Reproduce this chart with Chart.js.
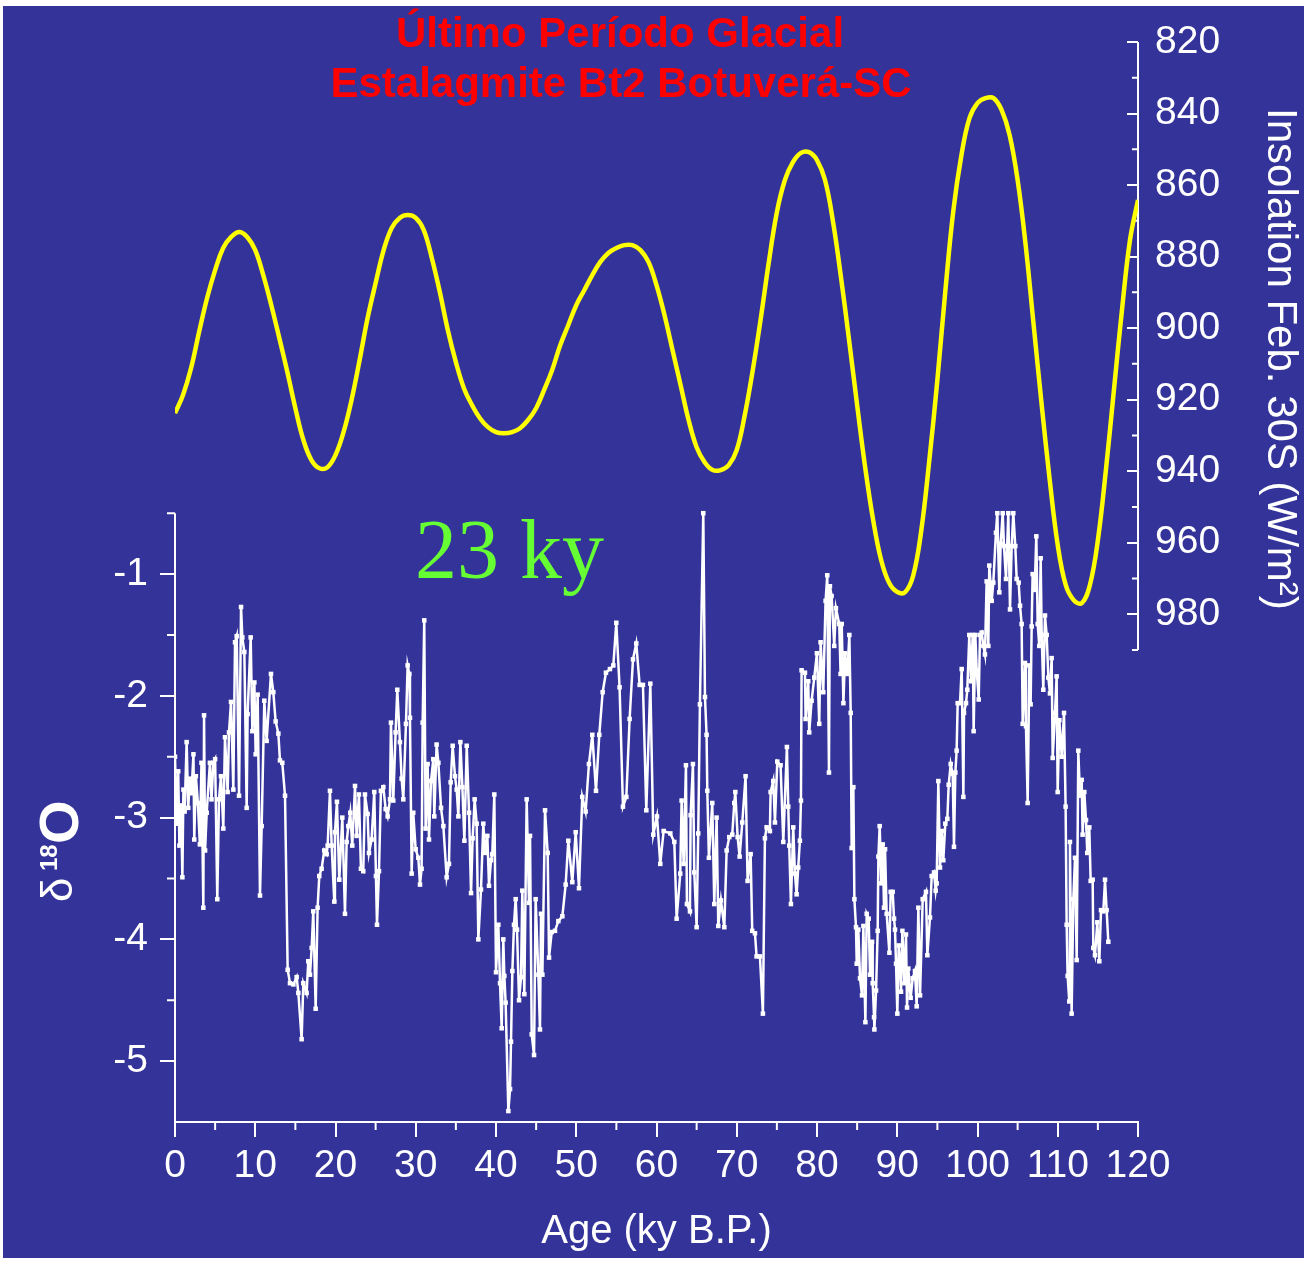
<!DOCTYPE html>
<html>
<head>
<meta charset="utf-8">
<title>Último Período Glacial - Estalagmite Bt2 Botuverá-SC</title>
<script src="https://cdn.jsdelivr.net/npm/chart.js@4.4.1/dist/chart.umd.min.js"></script>
<style>
  html, body { margin: 0; padding: 0; background: #ffffff; }
  #wrap { width: 1310px; height: 1264px; }
</style>
</head>
<body>
<div id="wrap"><canvas id="chart" width="1310" height="1264"></canvas></div>
<script>
// Stalagmite Bt2 oxygen isotope record (age in ky B.P., d18O in permil)
const ageKy = [
  0.0, 0.2, 0.4, 0.55, 0.75, 0.92, 1.05, 1.2, 1.45, 1.65,
  1.85, 2.05, 2.3, 2.4, 2.6, 2.85, 3.1, 3.3, 3.53, 3.62,
  3.75, 3.95, 4.35, 4.55, 4.78, 5.0, 5.27, 5.48, 5.73, 6.02,
  6.23, 6.56, 6.73, 6.98, 7.27, 7.48, 7.69, 7.98, 8.23, 8.39,
  8.64, 8.93, 9.05, 9.43, 9.64, 9.89, 10.05, 10.3, 10.59, 10.8,
  11.13, 11.42, 11.96, 12.25, 12.54, 12.88, 13.08, 13.37, 13.71, 14.04,
  14.33, 14.75, 15.16, 15.37, 15.78,
  15.99, 16.4, 16.61, 16.82, 17.03, 17.23, 17.53, 17.77, 17.98, 18.27,
  18.6, 18.9, 19.02, 19.31, 19.52, 19.85, 19.93, 20.18, 20.47, 20.85,
  21.18, 21.39, 21.6, 21.84, 22.09, 22.43, 22.63, 22.92, 23.17, 23.46,
  23.67, 24.0, 24.17, 24.5, 24.83, 25.04, 25.17, 25.42, 25.66, 25.96,
  26.25, 26.5, 26.79, 26.91, 27.2, 27.49, 27.7, 28.03, 28.24, 28.45,
  28.78, 28.99, 29.2, 29.28, 29.49, 29.69, 29.99, 30.32, 30.53, 30.73,
  30.86, 31.06, 31.23, 31.48, 31.65, 31.9, 32.19, 32.31, 32.6, 32.82,
  33.15, 33.44, 33.85, 34.14, 34.35, 34.6, 34.89, 35.1, 35.31, 35.56,
  35.81, 36.06, 36.35, 36.64, 36.89, 37.09, 37.34, 37.59, 37.8, 38.13,
  38.42, 38.63, 38.92, 39.13, 39.38, 39.54, 39.79, 40.0, 40.29, 40.5,
  40.71, 40.91, 41.04, 41.2, 41.54, 41.75, 41.87, 42.04, 42.24, 42.45,
  42.62, 42.87, 43.12, 43.28, 43.53, 43.82, 44.11, 44.24, 44.45, 44.74,
  44.94, 45.28, 45.48, 45.61, 45.78, 46.11, 46.44, 46.61, 46.94, 47.35,
  47.77, 48.27, 48.68, 49.01, 49.51, 49.93, 50.34, 50.75,
  51.17, 51.58, 52.0, 52.46, 52.87, 53.29, 53.7, 54.2, 54.62, 54.99,
  55.4, 55.82, 56.24, 56.65, 57.07, 57.48, 57.9, 58.31, 58.73, 59.23,
  59.6, 60.06, 60.47, 60.89, 61.72, 62.22, 62.51, 62.96, 63.13, 63.38,
  63.67, 63.79, 64.17, 64.25, 64.54, 64.71, 65.0, 65.2, 65.41, 65.83,
  66.04, 66.24, 66.33, 66.53, 66.95, 67.2, 67.49, 67.7, 68.03, 68.45,
  68.74, 69.07, 69.44, 69.69, 69.82, 70.11, 70.36, 70.69, 71.1, 71.35,
  71.73, 71.93, 72.27, 72.47, 72.89, 73.26, 73.51, 73.72, 74.13, 74.22,
  74.55, 74.76, 75.05, 75.46, 75.8, 76.25, 76.42, 76.54, 76.75, 77.04,
  77.25, 77.46, 77.66, 77.87, 78.0, 78.08, 78.5, 78.58, 78.91, 79.03,
  79.33, 79.66, 79.99, 80.28, 80.45, 80.78, 81.07, 81.28, 81.49, 81.61,
  81.82, 82.15, 82.36, 82.77, 82.94,
  83.08, 83.29, 83.5, 83.78, 84.03, 84.2, 84.32, 84.53, 84.66, 84.86,
  84.95, 85.15, 85.36, 85.61, 85.78, 86.03, 86.19, 86.44, 86.61, 86.86,
  86.94, 87.11, 87.15, 87.36, 87.56, 87.65, 87.81, 88.02, 88.19, 88.35,
  88.48, 88.68, 89.02, 89.18, 89.43, 89.6, 89.72, 89.85, 90.01, 90.18,
  90.35, 90.47, 90.64, 90.89, 91.09, 91.22, 91.38, 91.67, 91.92, 92.21,
  92.42, 92.63, 92.84, 93.17, 93.58, 93.75, 94.08, 94.29, 94.58, 94.79,
  94.91, 95.12, 95.33, 95.54, 95.74, 95.99, 96.24, 96.41, 96.66, 96.91,
  97.07, 97.24, 97.4, 97.53, 97.82, 98.03, 98.24, 98.32, 98.57, 98.73,
  98.98, 99.19, 99.4, 99.52, 99.73, 99.9, 100.15, 100.31, 100.52, 100.73,
  100.93, 101.14, 101.35, 101.47, 101.77, 101.97, 102.3, 102.47, 102.72, 102.89,
  103.14, 103.3, 103.55, 103.84, 104.05, 104.26, 104.46, 104.71, 104.88, 105.13,
  105.3, 105.5, 105.63, 105.92, 106.04, 106.25, 106.46, 106.62, 106.75, 106.87,
  107.12, 107.33, 107.5, 107.7, 107.87, 108.0, 108.2, 108.41, 108.62, 108.83,
  109.03, 109.24, 109.37, 109.66, 109.86, 109.99, 110.2, 110.49, 110.78, 110.98,
  111.11, 111.23, 111.44, 111.52, 111.73, 111.94, 112.15, 112.36, 112.56, 112.77,
  112.98, 113.1, 113.31, 113.52, 113.68, 113.93, 114.1, 114.35, 114.43, 114.64,
  114.93, 115.18, 115.39, 115.68, 115.89, 116.09, 116.3
];
const d18O = [
  -2.5, -3.05, -2.62, -3.23, -2.9, -3.49, -2.77, -2.95, -2.38, -2.92,
  -2.68, -2.8, -2.48, -3.18, -2.66, -2.88, -3.22, -2.55, -3.74, -2.16,
  -3.27, -2.96, -2.55, -2.85, -2.55, -2.52, -3.67, -2.85, -2.66, -3.09,
  -2.34, -2.79, -2.3, -2.05, -2.77, -1.56, -1.51, -2.82, -1.27, -1.52,
  -1.64, -2.92, -2.15, -1.52, -2.29, -1.89, -2.48, -1.99, -3.64, -3.07,
  -2.04, -2.37, -1.82, -1.97, -2.21, -2.31, -2.53, -2.55, -2.82, -4.25,
  -4.36, -4.37, -4.31, -4.44, -4.82,
  -4.36, -4.44, -4.18, -4.29, -4.07, -3.77, -4.57, -3.74, -3.48, -3.42,
  -3.27, -3.3, -3.23, -2.78, -3.23, -3.69, -3.12, -2.87, -3.51, -3.0,
  -3.79, -3.2, -3.07, -2.96, -3.23, -2.74, -3.15, -2.81, -3.42, -3.44,
  -2.81, -2.97, -3.29, -3.18, -2.79, -3.48, -3.88, -3.44, -2.78, -2.75,
  -2.93, -2.99, -2.85, -2.22, -2.86, -2.3, -1.95, -2.38, -2.68, -2.85,
  -2.23, -1.75, -1.82, -2.18, -3.46, -2.96, -3.26, -3.33, -3.55, -3.42,
  -2.22, -1.38, -3.09, -2.56, -3.18, -2.7, -2.52, -2.99, -2.4, -2.55,
  -2.92, -3.07, -3.49, -3.38, -2.71, -2.41, -2.66, -2.77, -2.99, -2.38,
  -2.75, -3.19, -2.41, -2.96, -3.62, -3.17, -2.85, -3.05, -4.0, -3.59,
  -3.05, -3.29, -3.15, -3.56, -3.35, -3.3, -2.81, -4.27, -3.88, -4.36,
  -4.73, -4.0, -4.3, -4.52, -5.41, -5.23, -4.84, -4.26, -3.88, -3.67,
  -3.92, -4.5, -4.31, -3.6, -4.45, -2.85, -3.7, -3.15, -4.78, -4.95,
  -3.67, -4.29, -4.74, -3.79, -4.29, -2.94, -3.29, -4.15, -3.94, -3.93,
  -3.85, -3.81, -3.55, -3.19, -3.53, -3.12, -3.58, -2.83,
  -2.95, -2.56, -2.32, -2.78, -2.32, -1.97, -1.81, -1.78, -1.75, -1.40,
  -1.93, -2.91, -2.83, -2.19, -1.70, -1.57, -1.91, -1.91, -2.94, -1.90,
  -3.14, -2.99, -3.38, -3.11, -3.13, -3.20, -3.83, -3.46, -2.86, -3.38,
  -2.57, -3.71, -3.77, -2.98, -2.56, -3.45, -3.90, -3.13, -2.07, -0.50,
  -2.01, -2.32, -2.78, -3.33, -2.88, -3.71, -3.00, -3.89, -3.68, -3.90,
  -3.27, -3.16, -3.14, -2.88, -2.79, -3.16, -3.32, -3.04, -2.66, -3.52,
  -3.30, -3.93, -3.95, -4.14, -4.14, -4.61, -3.17, -3.08, -3.11, -2.79,
  -2.70, -3.04, -2.54, -2.57, -3.20, -2.42, -2.91, -3.23, -3.71, -3.08,
  -3.46, -3.63, -3.41, -3.19, -2.86, -1.79, -1.81, -2.19, -1.88, -2.30,
  -2.04, -1.85, -1.65, -2.23, -1.56, -1.97, -1.22, -1.01, -2.63, -1.10,
  -1.18, -1.59, -1.28, -1.41, -1.82,
  -1.41, -2.06, -1.65, -1.82, -1.50, -2.14, -3.25, -2.75, -3.67, -3.90,
  -4.20, -3.92, -4.32, -4.46, -3.89, -4.68, -3.79, -3.83, -4.29, -4.02,
  -4.36, -4.64, -4.74, -4.42, -3.93, -3.32, -3.07, -3.54, -3.22, -3.74,
  -3.26, -3.79, -4.11, -3.61, -3.61, -3.83, -3.92, -4.20, -4.61, -4.05,
  -4.20, -4.43, -3.93, -4.36, -3.96, -4.56, -4.24, -4.48, -4.32, -4.26,
  -4.55, -3.74, -4.46, -3.67, -3.61, -4.13, -3.82, -3.48, -3.45, -3.60,
  -3.54, -2.70, -3.41, -3.11, -3.35, -3.05, -3.01, -2.73, -2.56, -2.64,
  -3.24, -2.63, -2.45, -2.06, -2.06, -1.78, -2.83, -2.14, -2.06, -1.95,
  -1.50, -1.88, -1.50, -2.29, -1.50, -1.79, -2.03, -1.50, -1.48, -1.59,
  -1.66, -1.06, -1.59, -0.93, -1.22, -1.07, -0.66, -0.50, -1.15, -0.75,
  -0.50, -0.77, -1.04, -0.50, -1.29, -0.77, -0.50, -0.77, -1.04, -1.07,
  -1.26, -1.41, -2.23, -1.73, -2.25, -2.88, -1.75, -2.07, -1.43, -1.00,
  -1.13, -0.69, -1.41, -1.59, -0.87, -1.50, -1.95, -1.34, -1.50, -1.85,
  -1.98, -1.69, -2.51, -2.14, -1.84, -2.79, -2.20, -2.50, -2.14, -2.91,
  -3.88, -4.30, -4.51, -3.20, -4.61, -3.67, -3.33, -4.17, -2.45, -2.82,
  -2.69, -3.14, -2.79, -3.02, -3.29, -3.08, -3.52, -3.51, -4.07, -4.13,
  -3.86, -4.18, -3.76, -3.77, -3.51, -3.76, -4.02
];

// February insolation at 30S (W/m2)
const insolAgeKy = [
  0, 1, 2, 3, 4, 5, 6, 7, 8, 9, 10, 11, 12, 13, 14, 15, 16, 17, 18, 19, 20,
  21, 22, 23, 24, 25, 26, 27, 28, 29, 30, 31, 32, 33, 34, 35, 36, 37, 38, 39, 40,
  41, 42, 43, 44, 45, 46, 47, 48, 49, 50, 51, 52, 53, 54, 55, 56, 57, 58, 59, 60,
  61, 62, 63, 64, 65, 66, 67, 68, 69, 70, 71, 72, 73, 74, 75, 76, 77, 78, 79, 80,
  81, 82, 83, 84, 85, 86, 87, 88, 89, 90, 91, 92, 93, 94, 95, 96, 97, 98, 99, 100,
  101, 102, 103, 104, 105, 106, 107, 108, 109, 110, 111, 112, 113, 114, 115, 116, 117, 118, 119, 120
];
const insolWm2 = [
  923.8, 918.7, 911.2, 901.1, 891.6, 883.8, 877.6, 874.5, 873.1, 874.5, 878.2,
  885.2, 893.6, 902.8, 912.3, 922.4, 931.3, 936.9, 939.2, 938.9, 935.5,
  929.1, 920.1, 909.0, 897.2, 887.4, 878.2, 872.0, 869.2, 868.4, 869.2,
  872.6, 880.4, 889.9, 900.6, 909.5, 916.8, 921.5, 925.2, 927.7, 929.1,
  929.4, 929.1, 928.0, 925.7, 922.4, 917.3, 911.7, 904.8, 899.2, 893.6,
  889.4, 885.2, 881.5, 879.0, 877.6, 876.8, 876.8, 878.2, 881.5, 888.0,
  896.4, 906.2, 915.9, 925.7, 933.3, 937.5, 939.7, 939.7, 938.3, 934.1,
  924.3, 911.7, 897.2, 881.5, 867.6, 858.6, 853.6, 851.0, 850.8, 853.0,
  858.6, 870.3, 886.0, 903.4, 921.5, 938.9, 953.7, 964.9, 971.3, 973.8,
  973.8, 969.1, 956.5, 936.9, 914.5, 889.4, 867.0, 851.6, 841.3, 837.1,
  835.7, 835.7, 839.0, 846.0, 858.6, 876.8, 899.2, 921.5, 942.5, 960.7,
  971.9, 976.1, 976.9, 971.9, 959.3, 939.7, 917.3, 895.0, 875.4, 864.2
];

// tick labels
const xTicks = [0, 10, 20, 30, 40, 50, 60, 70, 80, 90, 100, 110, 120];
const xMinorTicks = [5, 15, 25, 35, 45, 55, 65, 75, 85, 95, 105, 115];
const d18OTicks = [-5, -4, -3, -2, -1];
const d18OMinorTicks = [-4.5, -3.5, -2.5, -1.5, -0.5];
const insolTicks = [820, 840, 860, 880, 900, 920, 940, 960, 980];
const insolMinorTicks = [830, 850, 870, 890, 910, 930, 950, 970, 990];

const titleLines = ['Último Período Glacial', 'Estalagmite Bt2 Botuverá-SC'];
const periodLabel = '23 ky';

const BLUE = '#333399';
const WHITE = '#ffffff';
const SANS = "'Liberation Sans', Arial, Helvetica, sans-serif";
const SERIF = "'Liberation Serif', 'Times New Roman', serif";

// blue panel behind everything
const background = {
  id: 'background',
  beforeDraw(chart) {
    const ctx = chart.ctx;
    ctx.save();
    ctx.fillStyle = WHITE;
    ctx.fillRect(0, 0, chart.width, chart.height);
    ctx.fillStyle = BLUE;
    ctx.fillRect(3, 6, 1301, 1252);
    ctx.restore();
  }
};

// axis lines that only cover part of the plot height, plus minor ticks
const axisExtras = {
  id: 'axisExtras',
  beforeDatasetsDraw(chart) {
    const { ctx, scales: { x, y, y2 } } = chart;
    const left = chart.chartArea.left;
    const right = chart.chartArea.right;
    const bottom = chart.chartArea.bottom;
    ctx.save();
    ctx.strokeStyle = WHITE;
    ctx.lineWidth = 2;
    ctx.beginPath();
    ctx.moveTo(left, y.getPixelForValue(-0.5));
    ctx.lineTo(left, y.getPixelForValue(-5.5));
    d18OMinorTicks.forEach(v => {
      const py = y.getPixelForValue(v);
      ctx.moveTo(left - 8, py);
      ctx.lineTo(left, py);
    });
    ctx.moveTo(right, y2.getPixelForValue(820));
    ctx.lineTo(right, y2.getPixelForValue(990));
    insolMinorTicks.forEach(v => {
      const py = y2.getPixelForValue(v);
      ctx.moveTo(right - 6, py);
      ctx.lineTo(right, py);
    });
    xMinorTicks.forEach(v => {
      const px = x.getPixelForValue(v);
      ctx.moveTo(px, bottom);
      ctx.lineTo(px, bottom + 8);
    });
    ctx.stroke();
    ctx.restore();
  }
};

// titles and labels drawn as canvas text
const annotations = {
  id: 'annotations',
  afterDraw(chart) {
    const ctx = chart.ctx;
    ctx.save();
    ctx.textBaseline = 'alphabetic';

    ctx.textAlign = 'center';
    ctx.fillStyle = '#ff0000';
    ctx.font = 'bold 42px ' + SANS;
    ctx.fillText(titleLines[0], 620, 47);
    ctx.fillText(titleLines[1], 621, 97);

    ctx.textAlign = 'left';
    ctx.fillStyle = '#66ff33';
    ctx.font = '84px ' + SERIF;
    ctx.fillText(periodLabel, 415, 578);

    // left axis title, reads bottom to top
    ctx.fillStyle = WHITE;
    ctx.save();
    ctx.translate(78, 902);
    ctx.rotate(-Math.PI / 2);
    ctx.font = '44px ' + SANS;
    ctx.fillText('δ', 0, -6);
    ctx.font = 'bold 24px ' + SANS;
    ctx.fillText('18', 31, -21);
    ctx.font = 'bold 56px ' + SANS;
    ctx.fillText('O', 58, 0);
    ctx.restore();

    // right axis title, reads top to bottom
    ctx.save();
    ctx.translate(1268, 108);
    ctx.rotate(Math.PI / 2);
    ctx.font = '42px ' + SANS;
    ctx.fillText('Insolation Feb. 30S (W/m²)', 0, 0);
    ctx.restore();

    ctx.restore();
  }
};

const tickFont = { family: SANS, size: 39 };

// keep label half-heights from pushing the plot area down
const noScalePadding = s => { s.paddingTop = 0; s.paddingBottom = 0; };

new Chart(document.getElementById('chart'), {
  type: 'scatter',
  data: {
    datasets: [
      {
        label: 'd18O',
        data: ageKy.map((a, i) => ({ x: a, y: d18O[i] })),
        yAxisID: 'y',
        showLine: true,
        borderColor: WHITE,
        borderWidth: 2.5,
        pointStyle: 'rect',
        pointRadius: 3.2,
        pointBackgroundColor: WHITE,
        pointBorderWidth: 0,
        order: 0
      },
      {
        label: 'Insolation',
        data: insolAgeKy.map((a, i) => ({ x: a, y: insolWm2[i] })),
        yAxisID: 'y2',
        showLine: true,
        borderColor: '#ffff00',
        borderWidth: 4.5,
        pointRadius: 0,
        tension: 0.4,
        order: 1
      }
    ]
  },
  options: {
    responsive: false,
    devicePixelRatio: 1,
    animation: false,
    events: [],
    layout: { padding: { top: 42, left: 0, right: 0, bottom: 0 } },
    plugins: {
      legend: { display: false },
      tooltip: { enabled: false }
    },
    scales: {
      x: {
        type: 'linear',
        position: 'bottom',
        min: 0,
        max: 120,
        afterBuildTicks: s => { s.ticks = xTicks.map(v => ({ value: v })); },
        afterFit: s => { s.height = 142; },
        ticks: { color: WHITE, font: tickFont, padding: 6, autoSkip: false, maxRotation: 0, minRotation: 0 },
        grid: { drawOnChartArea: false, tickLength: 15, color: WHITE, lineWidth: 2 },
        border: { display: true, color: WHITE, width: 2 },
        title: {
          display: true,
          text: 'Age (ky B.P.)',
          color: WHITE,
          font: { family: SANS, size: 40 },
          padding: { top: 0, bottom: 8 }
        }
      },
      y: {
        type: 'linear',
        position: 'left',
        min: -5.5,
        max: 3.37,
        afterBuildTicks: s => { s.ticks = d18OTicks.map(v => ({ value: v })); },
        afterFit: s => { s.width = 175; noScalePadding(s); },
        ticks: { color: WHITE, font: tickFont, padding: 12 },
        grid: { drawOnChartArea: false, tickLength: 15, color: WHITE, lineWidth: 2 },
        border: { display: false }
      },
      y2: {
        type: 'linear',
        position: 'right',
        reverse: true,
        min: 820,
        max: 1122,
        afterBuildTicks: s => { s.ticks = insolTicks.map(v => ({ value: v })); },
        afterFit: s => { s.width = 172; noScalePadding(s); },
        ticks: { color: WHITE, font: tickFont, padding: 28 },
        grid: { drawOnChartArea: false, tickLength: -11, color: WHITE, lineWidth: 2 },
        border: { display: false }
      }
    }
  },
  plugins: [background, axisExtras, annotations]
});
</script>
</body>
</html>
